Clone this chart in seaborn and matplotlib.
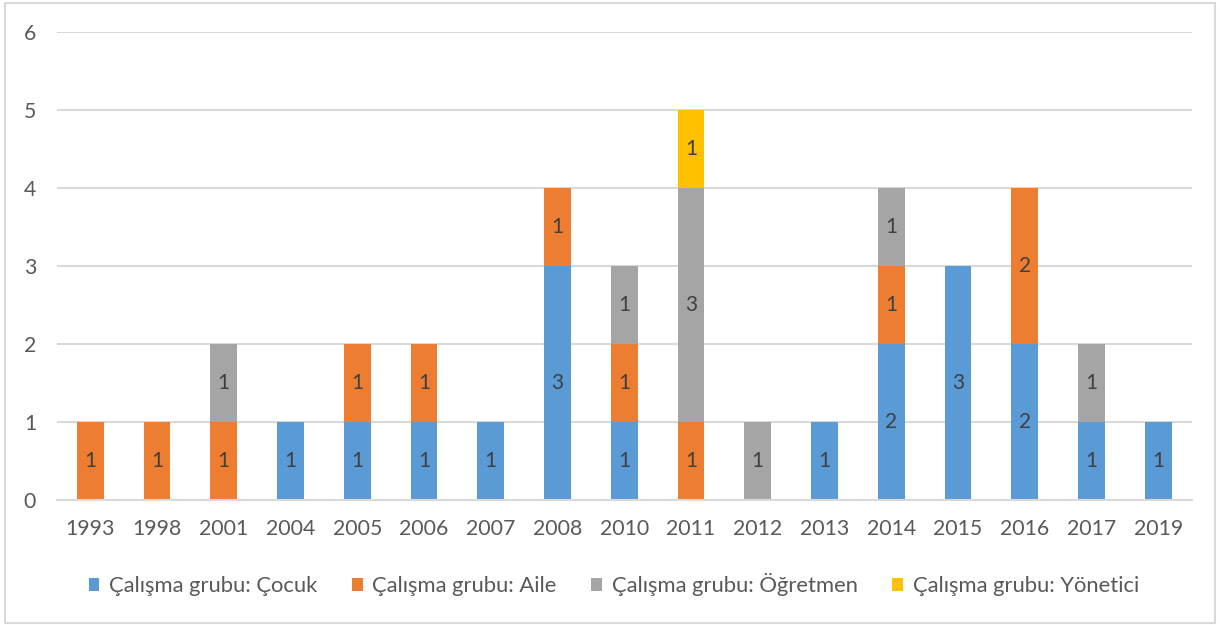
import matplotlib
matplotlib.use("Agg")
import matplotlib.pyplot as plt
import numpy as np
import pandas as pd
import seaborn as sns
from matplotlib.patches import Patch, Rectangle

years = ["1993", "1998", "2001", "2004", "2005", "2006", "2007", "2008", "2010",
         "2011", "2012", "2013", "2014", "2015", "2016", "2017", "2019"]
cocuk = [0, 0, 0, 1, 1, 1, 1, 3, 1, 0, 0, 1, 2, 3, 2, 1, 1]
aile = [1, 1, 1, 0, 1, 1, 0, 1, 1, 1, 0, 0, 1, 0, 2, 0, 0]
ogretmen = [0, 0, 1, 0, 0, 0, 0, 0, 1, 3, 1, 0, 1, 0, 0, 1, 0]
yonetici = [0, 0, 0, 0, 0, 0, 0, 0, 0, 1, 0, 0, 0, 0, 0, 0, 0]

series = {
    "Çalışma grubu: Çocuk": cocuk,
    "Çalışma grubu: Aile": aile,
    "Çalışma grubu: Öğretmen": ogretmen,
    "Çalışma grubu: Yönetici": yonetici,
}
colors = ["#5B9BD5", "#ED7D31", "#A5A5A5", "#FFC000"]

sns.set_theme(style="white")
plt.rcParams["font.family"] = ["Lato", "DejaVu Sans"]
text_color = "#595959"
grid_color = "#D9D9D9"

fig = plt.figure(figsize=(12.2, 6.25), dpi=100)
ax = fig.add_axes([0.0467, 0.2, 0.9836 - 0.0536, 0.7488])

# stack by drawing cumulative totals from the top series down
values = np.array(list(series.values()), dtype=float)
cums = np.cumsum(values, axis=0)
for i in range(len(series) - 1, -1, -1):
    df = pd.DataFrame({"year": years, "total": cums[i]})
    sns.barplot(data=df, x="year", y="total", color=colors[i], width=0.4,
                saturation=1, ax=ax, zorder=2, linewidth=0)

# data labels at segment centres
bottoms = np.zeros(len(years))
for i, vals in enumerate(values):
    for j, v in enumerate(vals):
        if v > 0:
            ax.text(j, bottoms[j] + v / 2, f"{int(v)}", ha="center", va="center",
                    fontsize=15, color="#404040", zorder=3)
    bottoms += vals

ax.set_ylim(0, 6)
ax.set_xlim(-0.5, len(years) - 0.5)
ax.set_yticks(range(0, 7))
ax.yaxis.grid(True, color=grid_color, linewidth=1.5, zorder=0)
ax.set_axisbelow(True)
for s in ["top", "right", "left"]:
    ax.spines[s].set_visible(False)
ax.spines["bottom"].set_color(grid_color)
ax.spines["bottom"].set_linewidth(1.5)
ax.tick_params(axis="both", length=0, labelsize=15.3, colors=text_color)
ax.tick_params(axis="y", pad=15)
ax.tick_params(axis="x", pad=14)
ax.set_xlabel("")
ax.set_ylabel("")

handles = [Patch(facecolor=c, edgecolor="none") for c in colors]
fig.legend(handles, list(series.keys()), loc="center", ncol=4,
           bbox_to_anchor=(0.503, 0.064), frameon=False, fontsize=15.8,
           labelcolor=text_color, handlelength=0.5, handleheight=0.5,
           handletextpad=0.45, columnspacing=1.55)

fig.patches.append(Rectangle((0.004, 0.004), 0.992, 0.991, transform=fig.transFigure,
                             fill=False, edgecolor=grid_color, linewidth=1.5))

fig.savefig("out.png", dpi=100)
